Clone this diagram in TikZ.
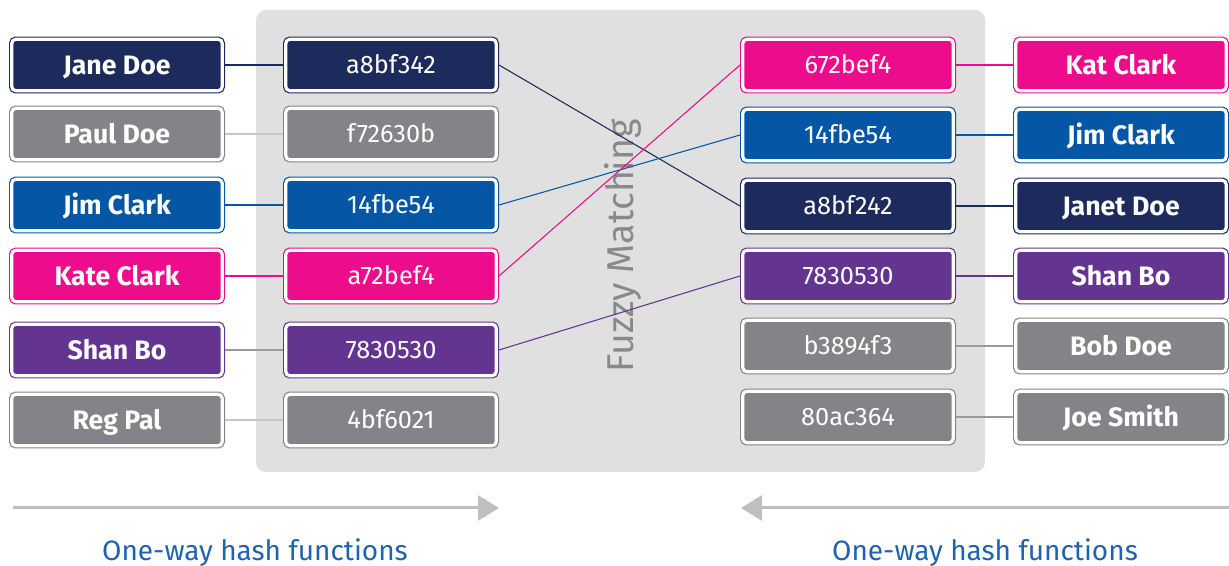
\documentclass[tikz,border=0pt]{standalone}
\usepackage{fontspec}
\setmainfont{Fira Sans}
\usetikzlibrary{arrows.meta}
\definecolor{cnavy}{HTML}{1D2A5C}
\definecolor{cgray}{HTML}{838487}
\definecolor{cblue}{HTML}{0556A4}
\definecolor{cpink}{HTML}{EC0C8C}
\definecolor{cpurple}{HTML}{633591}
\definecolor{cbg}{HTML}{E0E0E0}
\definecolor{carrow}{HTML}{BEBFC1}
\definecolor{clabel}{HTML}{1F62AE}
\definecolor{cfuzzy}{HTML}{88898C}
\definecolor{clightline}{HTML}{C6C6C6}
\definecolor{cmidline}{HTML}{9A9A9C}
\tikzset{
  box/.style={draw=#1, fill=#1, double=white, double distance=2.4pt, line width=0.9pt,
    rounded corners=3pt, minimum width=157.8pt, minimum height=38.5pt, inner sep=0pt,
    outer sep=2.1pt, text=white},
  namebox/.style={box=#1, font=\fontsize{20}{24}\selectfont\bfseries, text height=13.8pt, text depth=0pt},
  hashbox/.style={box=#1, font=\fontsize{19}{23}\selectfont, text height=13.1pt, text depth=0pt},
  link/.style={line width=0.8pt},
  bigarrow/.style={draw=carrow, line width=2.25pt, -{Triangle[length=15.75pt, width=18.75pt]}},
  lbl/.style={text=clabel, font=\fontsize{21}{25}\selectfont, text height=14.5pt, text depth=0pt, inner sep=0pt},
}
\begin{document}
\begin{tikzpicture}[x=0.75pt, y=-0.75pt]
\useasboundingbox (0,0) rectangle (1229,566);
% background panel
\fill[cbg, rounded corners=7.5pt] (256,10) rectangle (985,472);
\node[rotate=90, text=cfuzzy, font=\fontsize{28}{32}\selectfont, inner sep=0pt] (fuzzy) at (623,246) {Fuzzy Matching};
% left names
\node[namebox=cnavy]   (ln1) at (117,65)  {Jane Doe};
\node[namebox=cgray]   (ln2) at (117,134) {Paul Doe};
\node[namebox=cblue]   (ln3) at (117,205) {Jim Clark};
\node[namebox=cpink]   (ln4) at (117,276) {Kate Clark};
\node[namebox=cpurple] (ln5) at (117,350) {Shan Bo};
\node[namebox=cgray]   (ln6) at (117,420) {Reg Pal};
% left hashes
\node[hashbox=cnavy]   (lh1) at (391,65)  {a8bf342};
\node[hashbox=cgray]   (lh2) at (391,134) {f72630b};
\node[hashbox=cblue]   (lh3) at (391,205) {14fbe54};
\node[hashbox=cpink]   (lh4) at (391,276) {a72bef4};
\node[hashbox=cpurple] (lh5) at (391,350) {7830530};
\node[hashbox=cgray]   (lh6) at (391,420) {4bf6021};
% right hashes
\node[hashbox=cpink]   (rh1) at (848,65)  {672bef4};
\node[hashbox=cblue]   (rh2) at (848,135) {14fbe54};
\node[hashbox=cnavy]   (rh3) at (848,206) {a8bf242};
\node[hashbox=cpurple] (rh4) at (848,276) {7830530};
\node[hashbox=cgray]   (rh5) at (848,346) {b3894f3};
\node[hashbox=cgray]   (rh6) at (848,417) {80ac364};
% right names
\node[namebox=cpink]   (rn1) at (1121,65)  {Kat Clark};
\node[namebox=cblue]   (rn2) at (1121,135) {Jim Clark};
\node[namebox=cnavy]   (rn3) at (1121,206) {Janet Doe};
\node[namebox=cpurple] (rn4) at (1121,276) {Shan Bo};
\node[namebox=cgray]   (rn5) at (1121,346) {Bob Doe};
\node[namebox=cgray]   (rn6) at (1121,417) {Joe Smith};
% left connectors
\draw[link, cnavy]      (ln1) -- (lh1);
\draw[link, clightline] (ln2) -- (lh2);
\draw[link, cblue]      (ln3) -- (lh3);
\draw[link, cpink]      (ln4) -- (lh4);
\draw[link, cmidline]   (ln5) -- (lh5);
\draw[link, clightline] (ln6) -- (lh6);
% matching
\draw[link, cnavy]   (lh1.east) -- (rh3.west);
\draw[link, cblue]   (lh3.east) -- (rh2.west);
\draw[link, cpink]   (lh4.east) -- (rh1.west);
\draw[link, cpurple] (lh5.east) -- (rh4.west);
% right connectors
\draw[link, cpink]    (rh1) -- (rn1);
\draw[link, cblue]    (rh2) -- (rn2);
\draw[link, cnavy]    (rh3) -- (rn3);
\draw[link, cpurple]  (rh4) -- (rn4);
\draw[link, cmidline] (rh5) -- (rn5);
\draw[link, cmidline] (rh6) -- (rn6);
% arrows
\coordinate (a1s) at (13,508);
\coordinate (a1e) at (499,508);
\coordinate (a2s) at (1229,508);
\coordinate (a2e) at (741,508);
\draw[bigarrow] (a1s) -- (a1e);
\draw[bigarrow] (a2s) -- (a2e);
\node[lbl] (lab1) at (255,551) {One-way hash functions};
\node[lbl] (lab2) at (985,551) {One-way hash functions};
\end{tikzpicture}
\end{document}
